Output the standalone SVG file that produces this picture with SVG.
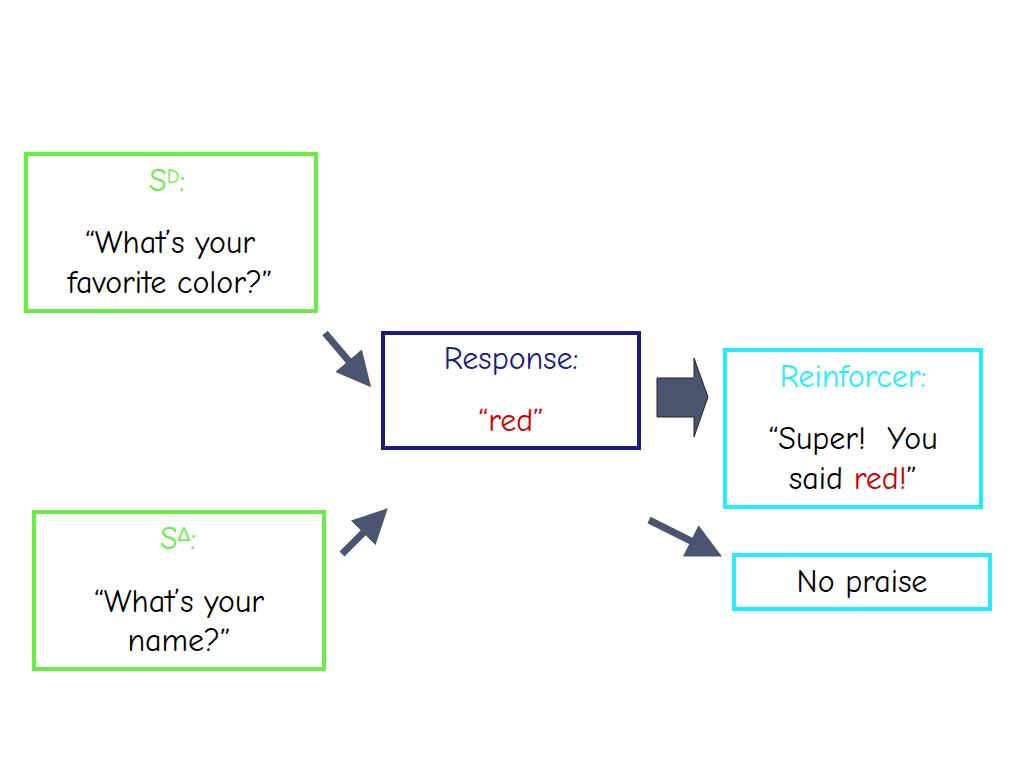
<svg xmlns="http://www.w3.org/2000/svg" width="1024" height="768" viewBox="0 0 1024 768">
<style>
text{font-family:"Comic Neue","Noto Sans","Liberation Sans",sans-serif;font-size:32px;text-anchor:middle;white-space:pre}
.g{fill:none;stroke:#66ee44;stroke-width:4}
.c{fill:none;stroke:#22eeff;stroke-width:4}
.ln{stroke:#4a5670;stroke-width:7}
</style>
<defs><marker id="ah" markerWidth="5" markerHeight="5" refX="1" refY="2.5" orient="auto" markerUnits="strokeWidth"><path d="M0,0L5,2.5L0,5Z" fill="#4a5670"/></marker></defs>
<rect width="1024" height="768" fill="#fff"/>
<g id="sd"><rect class="g" x="26" y="154" width="290" height="157"/>
<text x="167" y="191" fill="#66ee44">S<tspan font-size="20" dy="-8">D</tspan><tspan dy="8">:</tspan></text>
<text x="170" y="253">“What’s your</text><text x="170" y="293">favorite color?”</text></g>
<g id="sdelta"><rect class="g" x="34" y="512" width="290" height="157"/>
<text x="178" y="549" fill="#66ee44">S<tspan font-size="20" dy="-8">Δ</tspan><tspan dy="8">:</tspan></text>
<text x="179" y="612">“What’s your</text><text x="179" y="651">name?”</text></g>
<g id="resp"><rect x="383" y="333" width="256" height="115" fill="none" stroke="#1a1a80" stroke-width="4"/>
<text x="511" y="369" fill="#1a1a80">Response:</text><text x="511" y="431" fill="#cc0000">“red”</text></g>
<g id="reinf"><rect class="c" x="725" y="350" width="256" height="157"/>
<text x="853" y="387" fill="#22eeff">Reinforcer:</text>
<text x="853" y="449">“Super!  You</text><text x="853" y="489">said <tspan fill="#cc0000">red!</tspan>”</text></g>
<g id="nopraise"><rect class="c" x="734" y="555" width="256" height="54"/>
<text x="862" y="592">No praise</text></g>
<g id="connectors">
<line class="ln" x1="325" y1="333" x2="353" y2="366" marker-end="url(#ah)"/>
<line class="ln" x1="342" y1="554" x2="368" y2="528" marker-end="url(#ah)"/>
<line class="ln" x1="649" y1="520" x2="697" y2="544" marker-end="url(#ah)"/>
<path d="M657,378H694V358L708,397L694,437V417H657Z" fill="#4a5670" stroke="#222" stroke-width="1"/>
</g>
</svg>
